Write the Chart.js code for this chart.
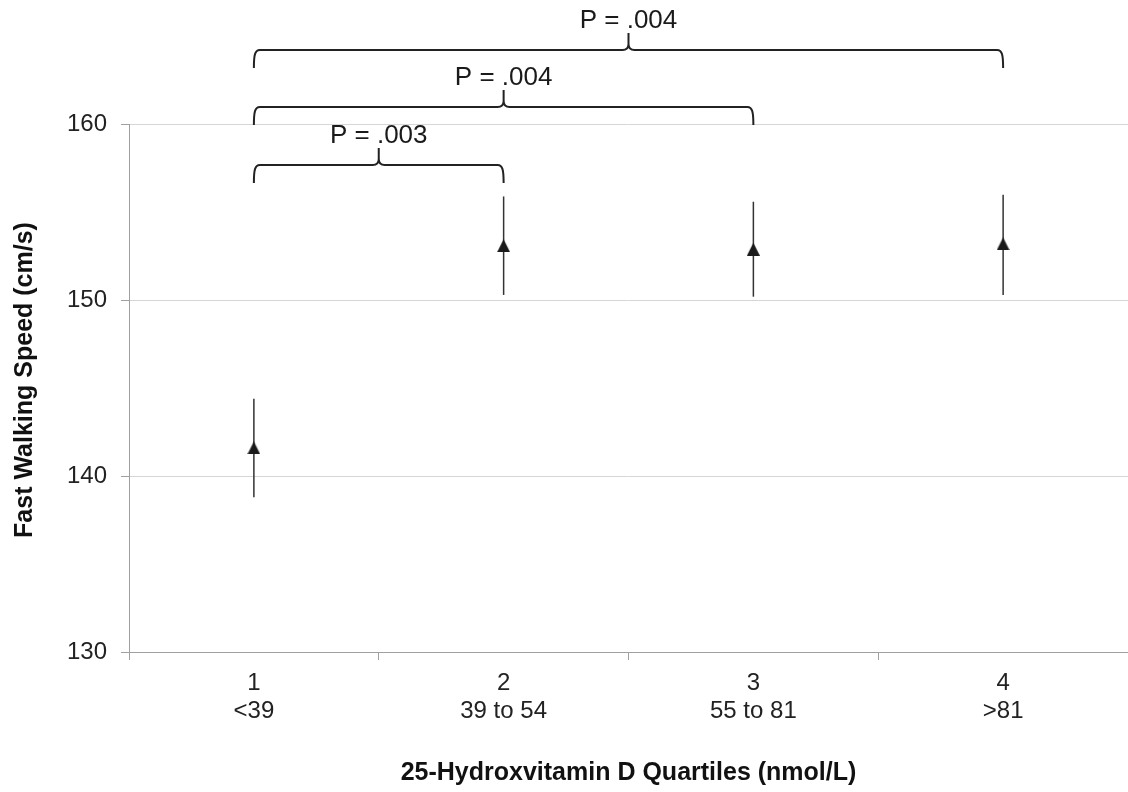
<!DOCTYPE html>
<html>
<head>
<meta charset="utf-8">
<script src="https://cdn.jsdelivr.net/npm/chart.js@4"></script>
<style>
  html, body { margin: 0; padding: 0; background: #fff; }
  #wrap { width: 1128px; height: 792px; position: relative; }
</style>
</head>
<body>
<div id="wrap"><canvas id="chart"></canvas></div>
<script>
  // quartile groups
  let quartiles = ["1", "2", "3", "4"];
  let ranges = ["<39", "39 to 54", "55 to 81", ">81"];

  // fast walking speed (cm/s): mean and error bar ends
  let speedMean = [141.6, 153.1, 152.9, 153.2];
  let speedLow = [138.8, 150.3, 150.2, 150.3];
  let speedHigh = [144.4, 155.9, 155.6, 156.0];

  let yTicks = [130, 140, 150, 160];

  // comparison brackets (category index from / to, height in cm/s)
  let bracketFrom = [0, 0, 0];
  let bracketTo = [1, 2, 3];
  let bracketLevel = [157.7, 161.0, 164.2];
  let bracketText = ["P = .003", "P = .004", "P = .004"];

  Chart.defaults.font.family = "'Liberation Sans', Arial, sans-serif";

  // triangle marker, centred on its box like the original
  let tri = document.createElement("canvas");
  tri.width = 13; tri.height = 13;
  let tctx = tri.getContext("2d");
  tctx.fillStyle = "#1a1a1a";
  tctx.beginPath();
  tctx.moveTo(6.5, 0);
  tctx.lineTo(13, 13);
  tctx.lineTo(0, 13);
  tctx.closePath();
  tctx.fill();

  function brace(ctx, x1, x2, y) {
    let xm = (x1 + x2) / 2;
    let depth = 18, up = 17, d = 6;
    ctx.beginPath();
    ctx.moveTo(x1, y + depth);
    ctx.bezierCurveTo(x1, y + 5, x1 + 1, y, x1 + d, y);
    ctx.lineTo(xm - d, y);
    ctx.quadraticCurveTo(xm, y, xm, y - d);
    ctx.lineTo(xm, y - up);
    ctx.moveTo(xm, y - d);
    ctx.quadraticCurveTo(xm, y, xm + d, y);
    ctx.lineTo(x2 - d, y);
    ctx.bezierCurveTo(x2 - 1, y, x2, y + 5, x2, y + depth);
    ctx.stroke();
  }

  let extras = {
    id: "extras",
    beforeDatasetsDraw(chart) {
      let ctx = chart.ctx, x = chart.scales.x, y = chart.scales.y, area = chart.chartArea;
      ctx.save();
      // y axis line only from 160 down
      ctx.strokeStyle = "#a0a0a0";
      ctx.lineWidth = 1;
      let ax = Math.round(area.left) + 0.5;
      ctx.beginPath();
      ctx.moveTo(ax, Math.round(y.getPixelForValue(160)));
      ctx.lineTo(ax, area.bottom);
      ctx.stroke();
      // error bars
      ctx.strokeStyle = "#333";
      ctx.lineWidth = 1.5;
      speedMean.forEach((m, i) => {
        let px = x.getPixelForValue(i);
        ctx.beginPath();
        ctx.moveTo(px, y.getPixelForValue(speedHigh[i]));
        ctx.lineTo(px, y.getPixelForValue(speedLow[i]));
        ctx.stroke();
      });
      ctx.restore();
    },
    afterDatasetsDraw(chart) {
      let ctx = chart.ctx, x = chart.scales.x, y = chart.scales.y;
      ctx.save();
      ctx.strokeStyle = "#222";
      ctx.lineWidth = 2;
      ctx.fillStyle = "#1a1a1a";
      ctx.font = "26px 'Liberation Sans', Arial, sans-serif";
      ctx.textAlign = "center";
      ctx.textBaseline = "alphabetic";
      bracketLevel.forEach((lv, i) => {
        let x1 = x.getPixelForValue(bracketFrom[i]);
        let x2 = x.getPixelForValue(bracketTo[i]);
        let py = Math.round(y.getPixelForValue(lv));
        brace(ctx, x1, x2, py);
        ctx.fillText(bracketText[i], (x1 + x2) / 2, py - 22);
      });
      // y axis title
      ctx.translate(25, 380);
      ctx.rotate(-Math.PI / 2);
      ctx.font = "bold 25px 'Liberation Sans', Arial, sans-serif";
      ctx.textBaseline = "middle";
      ctx.fillStyle = "#111";
      ctx.fillText("Fast Walking Speed (cm/s)", 0, 0);
      ctx.restore();
    }
  };

  new Chart(document.getElementById("chart"), {
    type: "line",
    data: {
      labels: quartiles.map((q, i) => [q, ranges[i]]),
      datasets: [{
        data: speedMean,
        showLine: false,
        pointStyle: tri,
        pointRadius: 7,
        pointHoverRadius: 7
      }]
    },
    options: {
      responsive: true,
      maintainAspectRatio: false,
      animation: false,
      events: [],
      layout: { autoPadding: false, padding: { top: 10, left: 0, right: 0, bottom: 0 } },
      plugins: { legend: { display: false }, tooltip: { enabled: false } },
      scales: {
        x: {
          offset: true,
          grid: { offset: true, drawOnChartArea: false, color: "#a0a0a0", tickLength: 8 },
          border: { color: "#a0a0a0" },
          ticks: { color: "#222", font: { size: 24, lineHeight: 1.15 }, padding: 10, maxRotation: 0, autoSkip: false },
          title: {
            display: true,
            text: "25-Hydroxvitamin D Quartiles (nmol/L)",
            color: "#111",
            font: { size: 25, weight: "bold" },
            padding: { top: 0, bottom: 4 }
          },
          afterFit: s => { s.height = 140; s.paddingLeft = 0; s.paddingRight = 0; }
        },
        y: {
          min: 130,
          max: 166.5,
          afterBuildTicks: s => { s.ticks = yTicks.map(v => ({ value: v })); },
          grid: {
            color: c => (c.tick && c.tick.value === 130 ? "#a0a0a0" : "#d6d6d6"),
            tickColor: "#a0a0a0",
            tickLength: 8
          },
          border: { display: false },
          ticks: { color: "#222", font: { size: 24 }, padding: 14 },
          afterFit: s => { s.width = 129; s.paddingTop = 0; s.paddingBottom = 0; }
        }
      }
    },
    plugins: [extras]
  });
</script>
</body>
</html>
